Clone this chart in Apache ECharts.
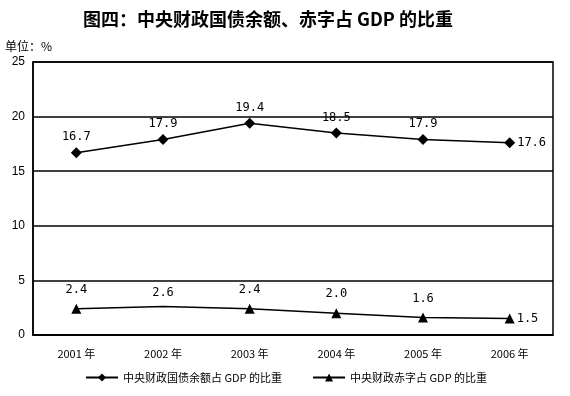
<!DOCTYPE html>
<html><head><meta charset="utf-8">
<script src="https://cdn.jsdelivr.net/npm/echarts@6/dist/echarts.min.js"></script>
<style>html,body{margin:0;padding:0;background:#fff}#c{width:570px;height:396px}</style>
</head><body><div id="c"></div>
<script>
const categories = ['2001 年','2002 年','2003 年','2004 年','2005 年','2006 年'];
const debtShare = [16.7, 17.9, 19.4, 18.5, 17.9, 17.6];
const deficitShare = [2.4, 2.6, 2.4, 2.0, 1.6, 1.5];
const seriesNames = ['中央财政国债余额占 GDP 的比重', '中央财政赤字占 GDP 的比重'];

const chart = echarts.init(document.getElementById('c'));
const labelFont = {fontFamily: 'DejaVu Sans Mono', fontSize: 12, color: '#000',
  formatter: p => Number(p.value).toFixed(1)};
function buildData(arr, hideIdx){
  return arr.map((v,i)=>{
    const o = {value: v};
    if (i === arr.length-1) o.label = {position: 'right', distance: 2};
    if (hideIdx !== undefined && i === hideIdx) o.symbolSize = 0;
    return o;
  });
}
chart.setOption({
  animation: false,
  backgroundColor: '#fff',
  title: {
    text: '图四：中央财政国债余额、赤字占 GDP 的比重',
    left: 78, top: 5,
    textStyle: {fontFamily: 'Noto Sans CJK SC', fontSize: 18, fontWeight: 'bold', color: '#000'}
  },
  graphic: [{type:'text', left: 5, top: 40, style:{text:'单位：%', font:'12px "Noto Sans CJK SC"', fill:'#000'}}],
  grid: {left: 33, right: 17, top: 62, bottom: 61, show: true, borderColor: '#000', borderWidth: 1.5},
  xAxis: {
    type: 'category', data: categories, boundaryGap: true,
    axisLine: {lineStyle: {color: '#000', width: 1.5}},
    axisTick: {inside: true, length: 5, lineStyle: {color: '#000'}},
    axisLabel: {margin: 13, fontFamily: 'Noto Sans CJK SC', fontSize: 11, color: '#000'}
  },
  yAxis: {
    type: 'value', min: 0, max: 25, interval: 5,
    axisLine: {show: true, lineStyle: {color: '#000', width: 1.5}},
    axisTick: {show: false},
    splitLine: {lineStyle: {color: '#000', width: 1.5}},
    axisLabel: {margin: 8, fontFamily: 'Liberation Sans', fontSize: 12, color: '#000'}
  },
  legend: {
    bottom: 8, left: 80, itemGap: 30, itemWidth: 32, itemHeight: 10,
    textStyle: {fontFamily: 'Noto Sans CJK SC', fontSize: 11, color: '#000'},
    data: seriesNames
  },
  series: [
    {name: seriesNames[0], type: 'line', data: buildData(debtShare), symbol: 'diamond', symbolSize: 11,
     itemStyle: {color: '#000'}, lineStyle: {color: '#000', width: 1.5},
     label: {show: true, position: 'top', distance: 4, ...labelFont}},
    {name: seriesNames[1], type: 'line', data: buildData(deficitShare, 1), symbol: 'triangle', symbolSize: 10,
     itemStyle: {color: '#000'}, lineStyle: {color: '#000', width: 1.5},
     label: {show: true, position: 'top', distance: 8, ...labelFont}}
  ]
});
</script></body></html>
